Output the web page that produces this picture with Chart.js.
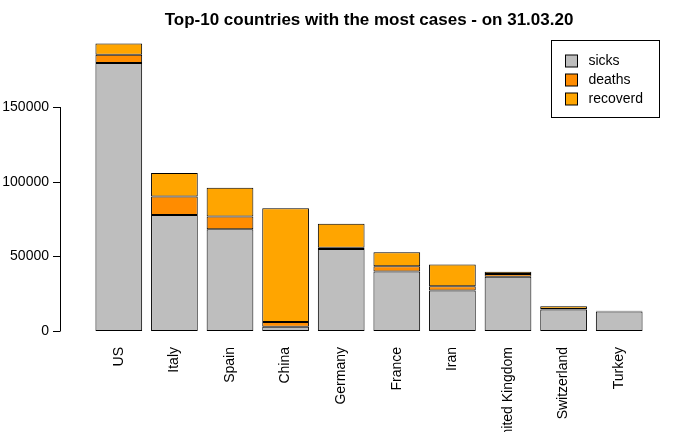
<!DOCTYPE html>
<html><head>
<script src="https://cdn.jsdelivr.net/npm/chart.js@4"></script>
<style>body{margin:0;background:#fff}#wrap{width:700px;height:432px}</style>
</head><body><div id="wrap"><canvas id="c"></canvas></div>
<script>
const countries=["US","Italy","Spain","China","Germany","France","Iran","United Kingdom","Switzerland","Turkey"];
const sicks=[179500,77635,68200,2764,54933,39782,27051,36300,14349,13074];
const deaths=[5500,12428,8464,3309,775,3532,2898,1800,433,214];
const recoverd=[7600,15729,19259,76206,16100,9513,14656,1600,1823,243];
const yTicks=[0,50000,100000,150000];
const FONT="'Liberation Sans', Arial, sans-serif";

const rAxis={id:"rAxis",afterDraw(ch){
  const c=ch.ctx,y=ch.scales.y;
  c.save();c.strokeStyle="#000";c.lineWidth=1;c.fillStyle="#000";
  c.beginPath();c.moveTo(60.5,y.getPixelForValue(0));c.lineTo(60.5,y.getPixelForValue(150000));c.stroke();
  c.font="14px "+FONT;c.textAlign="right";c.textBaseline="middle";
  yTicks.forEach(v=>{const p=Math.round(y.getPixelForValue(v))+0.5;
    c.beginPath();c.moveTo(53,p);c.lineTo(60.5,p);c.stroke();c.fillText(v,49,p);});
  // legend
  const lx=551.5,ly=40.5;c.strokeRect(lx,ly,108,77);
  const items=[["sicks","#bebebe"],["deaths","#ff8c00"],["recoverd","#ffa500"]];
  c.textAlign="left";
  items.forEach((it,i)=>{const yy=61+i*19;c.fillStyle=it[1];c.fillRect(lx+14,yy-6,12,12);
    c.strokeRect(lx+14,yy-6,12,12);c.fillStyle="#000";c.fillText(it[0],lx+37,yy);});
  c.restore();
}};

new Chart(document.getElementById("c"),{
  type:"bar",
  data:{labels:countries,datasets:[
    {label:"sicks",data:sicks,backgroundColor:"#bebebe"},
    {label:"deaths",data:deaths,backgroundColor:"#ff8c00"},
    {label:"recoverd",data:recoverd,backgroundColor:"#ffa500"}
  ].map(d=>Object.assign(d,{borderColor:"#000",borderWidth:1,borderSkipped:false,barPercentage:0.84,categoryPercentage:1}))},
  options:{responsive:true,maintainAspectRatio:false,animation:false,
    layout:{padding:{left:91,right:53,top:0}},
    plugins:{legend:{display:false},tooltip:{enabled:false},
      title:{display:true,text:"Top-10 countries with the most cases - on 31.03.20",color:"#000",
        font:{family:FONT,size:17,weight:"bold"},padding:{top:10,bottom:2}}},
    scales:{
      x:{stacked:true,grid:{display:false},border:{display:false},
        afterFit:s=>{s.height=101;},
        ticks:{color:"#000",font:{family:FONT,size:14},minRotation:90,maxRotation:90,padding:8,autoSkip:false}},
      y:{stacked:true,min:0,max:200000,display:false}
    }},
  plugins:[rAxis]
});
</script></body></html>
